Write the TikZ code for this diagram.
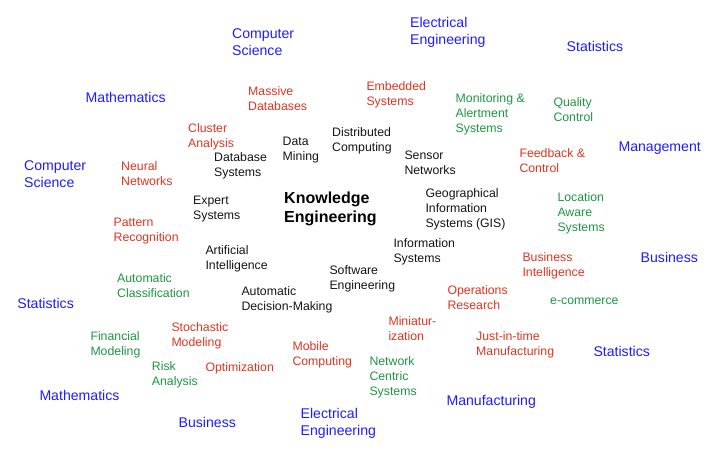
\documentclass[tikz,border=0pt]{standalone}
\usepackage{fontspec}
\setmainfont{Liberation Sans}
\definecolor{fblue}{RGB}{28,28,255}
\definecolor{fred}{RGB}{222,52,30}
\definecolor{fgreen}{RGB}{28,150,64}
\definecolor{fblack}{RGB}{20,20,20}
\tikzset{
  word/.style={anchor=base west, inner sep=0pt, align=left},
  field/.style={word, text=fblue, font=\fontsize{14.1pt}{17pt}\selectfont},
  redword/.style={word, text=fred, font=\fontsize{12.3pt}{15pt}\selectfont},
  greenword/.style={word, text=fgreen, font=\fontsize{12.3pt}{15pt}\selectfont},
  blackword/.style={word, text=fblack, font=\fontsize{12.3pt}{15pt}\selectfont},
  centre/.style={word, text=black, font=\fontsize{16pt}{19.4pt}\selectfont\bfseries, yshift=-19.4pt},
  twob/.style={yshift=-17pt},
  two/.style={yshift=-15pt},
  three/.style={yshift=-30pt},
}
\begin{document}
\begin{tikzpicture}[x=1pt,y=-1pt]
\useasboundingbox (0,0) rectangle (719,453);
% blue fields
\node[field,twob] (cs1) at (232,38.5) {Computer\\Science};
\node[field,twob] (ee1) at (410,27.3) {Electrical\\Engineering};
\node[field] (st1) at (566.5,51.7) {Statistics};
\node[field] (ma1) at (85.5,102) {Mathematics};
\node[field] (mg) at (618.3,151.7) {Management};
\node[field,twob] (cs2) at (24,170) {Computer\\Science};
\node[field] (bu1) at (640.5,262.7) {Business};
\node[field] (st2) at (17.2,308.3) {Statistics};
\node[field] (st3) at (593.3,356.7) {Statistics};
\node[field] (ma2) at (39.3,400.7) {Mathematics};
\node[field] (mf) at (446.3,405) {Manufacturing};
\node[field] (bu2) at (178.5,427.3) {Business};
\node[field,twob] (ee2) at (300.5,418) {Electrical\\Engineering};
% red
\node[redword,two] (mdb) at (248,95.7) {Massive\\Databases};
\node[redword,two] (emb) at (366.3,90) {Embedded\\Systems};
\node[redword,two] (cla) at (188,132.7) {Cluster\\Analysis};
\node[redword,two] (nn) at (121,170.7) {Neural\\Networks};
\node[redword,two] (fbc) at (519.3,157.3) {Feedback \&\\Control};
\node[redword,two] (pr) at (113.5,226.7) {Pattern\\Recognition};
\node[redword,two] (bi) at (522.3,261.7) {Business\\Intelligence};
\node[redword,two] (or) at (447.3,294) {Operations\\Research};
\node[redword,two] (mini) at (388.3,325) {Miniatur-\\ization};
\node[redword,two] (stm) at (171.3,331.7) {Stochastic\\Modeling};
\node[redword,two] (jit) at (476,340.7) {Just-in-time\\Manufacturing};
\node[redword,two] (mob) at (292.3,350.7) {Mobile\\Computing};
\node[redword] (opt) at (205.3,371.7) {Optimization};
% green
\node[greenword,three] (mon) at (455.5,102.7) {Monitoring \&\\Alertment\\Systems};
\node[greenword,two] (qc) at (553.3,106.7) {Quality\\Control};
\node[greenword,three] (las) at (557.3,201) {Location\\Aware\\Systems};
\node[greenword,two] (acl) at (117,282.7) {Automatic\\Classification};
\node[greenword] (ec) at (550,304.3) {e-commerce};
\node[greenword,two] (fm) at (90.3,340) {Financial\\Modeling};
\node[greenword,two] (ra) at (151.7,370.7) {Risk\\Analysis};
\node[greenword,three] (ncs) at (369.3,365) {Network\\Centric\\Systems};
% black
\node[blackword,two] (dm) at (282.5,145) {Data\\Mining};
\node[blackword,two] (dc) at (332,136) {Distributed\\Computing};
\node[blackword,two] (dbs) at (214,161.7) {Database\\Systems};
\node[blackword,two] (sn) at (404.3,159) {Sensor\\Networks};
\node[blackword,two] (es) at (193,204) {Expert\\Systems};
\node[blackword,three] (gis) at (425.3,197.3) {Geographical\\Information\\Systems (GIS)};
\node[blackword,two] (is) at (393.3,247.3) {Information\\Systems};
\node[blackword,two] (ai) at (205.3,254) {Artificial\\Intelligence};
\node[blackword,two] (se) at (329.3,274) {Software\\Engineering};
\node[blackword,two] (adm) at (241.3,295) {Automatic\\Decision-Making};
% centre
\node[centre] (ke) at (284,203.3) {Knowledge\\Engineering};
\end{tikzpicture}
\end{document}
